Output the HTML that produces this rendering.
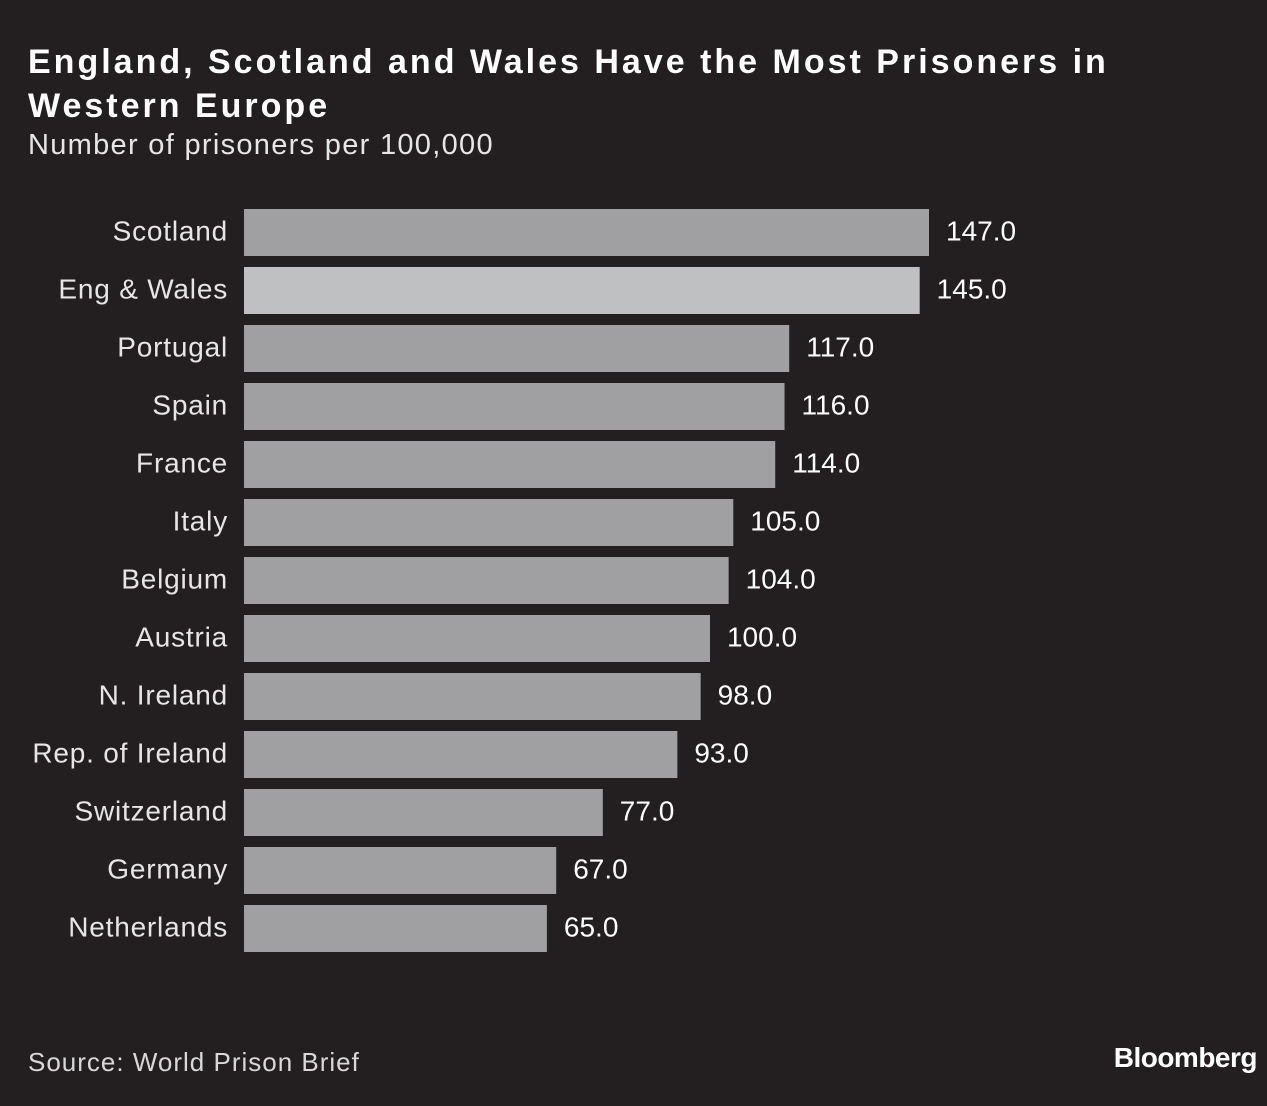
<!DOCTYPE html>
<html><head><meta charset="utf-8"><style>
html,body{margin:0;padding:0;background:#231f20;}
#root{position:relative;width:1267px;height:1106px;background:#231f20;overflow:hidden;font-family:"Liberation Sans",sans-serif;color:#fff;}
.title{position:absolute;left:28px;top:40px;font-size:34px;font-weight:bold;line-height:44px;width:1150px;letter-spacing:3px}
.sub{position:absolute;left:28px;top:129px;font-size:29px;color:#e6e6e6;letter-spacing:1.3px}
.src{position:absolute;left:28px;top:1047px;font-size:26px;color:#d8d8d8;letter-spacing:1px}
.logo{position:absolute;right:10px;top:1042px;font-size:28px;font-weight:bold;letter-spacing:-0.5px}
svg text{font-family:"Liberation Sans",sans-serif;}
</style></head><body>
<div id="root">
<div class="title">England, Scotland and Wales Have the Most Prisoners in Western Europe</div>
<div class="sub">Number of prisoners per 100,000</div>
<svg id="plot" width="1267" height="1106" style="position:absolute;left:0;top:0"></svg>
<div class="src">Source: World Prison Brief</div>
<div class="logo">Bloomberg</div>
</div>
<script>
const categories=["Scotland","Eng & Wales","Portugal","Spain","France","Italy","Belgium","Austria","N. Ireland","Rep. of Ireland","Switzerland","Germany","Netherlands"];
const values=[147,145,117,116,114,105,104,100,98,93,77,67,65];
const highlighted=["Eng & Wales"];
const svg=document.getElementById('plot');
const NS='http://www.w3.org/2000/svg';
const x0=244, pxPer=(929-244)/147;
const xScale=v=>x0+v*pxPer;
const yTop=209, pitch=58, barH=47;
const yScale=i=>yTop+i*pitch;
categories.forEach((c,i)=>{
  const y=yScale(i);
  const r=document.createElementNS(NS,'rect');
  r.setAttribute('x',x0);r.setAttribute('y',y);
  r.setAttribute('width',xScale(values[i])-x0);r.setAttribute('height',barH);
  r.setAttribute('fill',highlighted.includes(c)?'#bfc0c2':'#a0a0a2');
  
  
  svg.appendChild(r);
  const l=document.createElementNS(NS,'text');
  l.setAttribute('x',228);l.setAttribute('y',y+barH/2+8);
  l.setAttribute('text-anchor','end');l.setAttribute('font-size','28');l.setAttribute('fill','#e6e6e6');
  l.setAttribute('letter-spacing','0.8');
  l.textContent=c;
  
  
  svg.appendChild(l);
  const v=document.createElementNS(NS,'text');
  v.setAttribute('x',xScale(values[i])+17);v.setAttribute('y',y+barH/2+8);
  v.setAttribute('font-size','28');v.setAttribute('fill','#ffffff');
  v.textContent=values[i].toFixed(1);
  
  
  svg.appendChild(v);
});
</script>
</body></html>
